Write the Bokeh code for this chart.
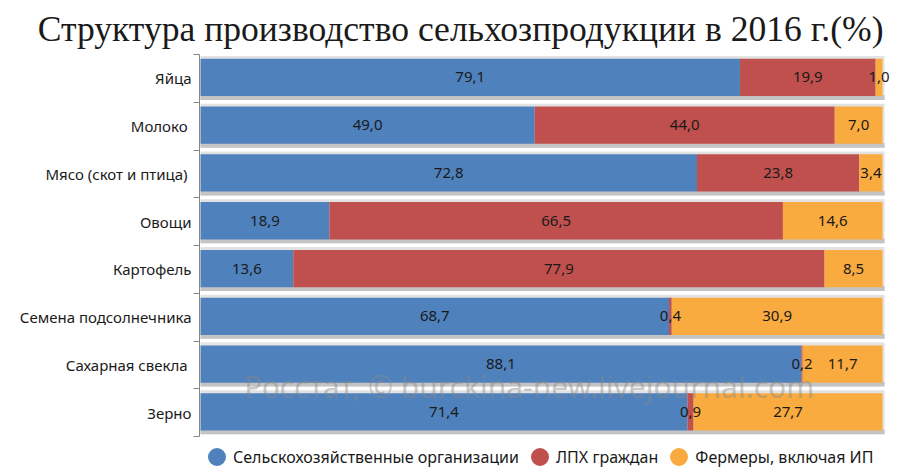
from bokeh.plotting import figure
from bokeh.models import (Range1d, FixedTicker, Label, Legend, LegendItem, Title,
                          ColumnDataSource, LabelSet)
from bokeh.core.properties import value
from bokeh.embed import file_html
from bokeh.resources import INLINE

categories = ["Яйца", "Молоко ", "Мясо (скот  и птица)", "Овощи", "Картофель",
              "Семена подсолнечника", "Сахарная свекла ", "Зерно"]
org = [79.1, 49.0, 72.8, 18.9, 13.6, 68.7, 88.1, 71.4]
lph = [19.9, 44.0, 23.8, 66.5, 77.9, 0.4, 0.2, 0.9]
farm = [1.0, 7.0, 3.4, 14.6, 8.5, 30.9, 11.7, 27.7]
series_names = ["Сельскохозяйственные организации", "ЛПХ граждан", "Фермеры, включая ИП"]
colors = ["#4F81BD", "#C0504D", "#F9AB3F"]
title_text = "Структура производство сельхозпродукции в 2016 г.(%)"
watermark = "Росстат, © burckina-new.livejournal.com"

FONT = "Noto Sans"
n = len(categories)
ys = [n - i - 0.5 for i in range(n)]
bar_c = [y + 0.02 for y in ys]

# frame: x 199..894, y 52..475 (legend area inside the frame, below the bars)
p = figure(width=900, height=475, x_range=Range1d(-0.147, 101.76),
           y_range=Range1d(-0.8125, n),
           output_backend="svg", toolbar_location=None, x_axis_location=None,
           min_border_left=199, min_border_right=6, min_border_top=52,
           min_border_bottom=0, outline_line_color=None, background_fill_color="white")
p.grid.visible = False

t = Title(text=title_text, align="right", text_font="Liberation Serif",
          text_font_size="35.6px", text_font_style="normal", text_color="#1a1a1a",
          standoff=12, offset=11)
p.add_layout(t, "above")

ax = p.yaxis[0]
ax.bounds = (0, n)
ax.ticker = FixedTicker(ticks=ys, minor_ticks=list(range(0, n + 1)))
ax.major_label_overrides = {y: c for y, c in zip(ys, categories)}
ax.major_tick_out = 0
ax.major_tick_in = 0
ax.minor_tick_out = 6
ax.minor_tick_in = 0
ax.axis_line_color = "#868686"
ax.minor_tick_line_color = "#868686"
ax.major_label_text_font = FONT
ax.major_label_text_font_size = "15px"
ax.major_label_text_color = "#1a1a1a"
ax.major_label_standoff = 2

# shadows
p.hbar(y=[c - 0.01 for c in bar_c], left=0, right=100.3, height=0.92,
       color="#e2e2e2", line_color=None)
p.hbar(y=[c - 0.42 for c in bar_c], left=0, right=100.3, height=0.1,
       color="#c4c4c4", line_color=None)

vals = [org, lph, farm]
left = [0.0] * n
lx, ly, lt = [], [], []
for s, c in zip(vals, colors):
    right = [l + v for l, v in zip(left, s)]
    p.hbar(y=bar_c, left=left, right=right, height=0.78, color=c, line_color=None)
    for i in range(n):
        lx.append((left[i] + right[i]) / 2)
        ly.append(bar_c[i])
        lt.append(f"{s[i]:.1f}".replace(".", ","))
    left = right

src = ColumnDataSource(dict(x=lx, y=ly, t=lt))
p.add_layout(LabelSet(x="x", y="y", text="t", source=src, text_align="center",
                      text_baseline="middle", text_font=value(FONT),
                      text_font_size="15px", text_color="#1a1a1a"))

p.add_layout(Label(x=48.2, y=1.06, text=watermark, text_align="center",
                   text_baseline="middle", text_font=FONT,
                   text_font_size="30px", text_color="#888888", text_alpha=0.45))

items = []
for name, c in zip(series_names, colors):
    r = p.scatter(x=[-50], y=[-50], marker="circle", size=10, color=c, line_width=8)
    items.append(LegendItem(label=name, renderers=[r]))
legend = Legend(items=items, orientation="horizontal", location=(5, 6),
                glyph_width=25, glyph_height=25, label_text_font=FONT,
                label_text_font_size="16px", label_text_color="#1a1a1a",
                border_line_color=None, spacing=8, padding=0, margin=0,
                label_standoff=4, background_fill_alpha=0)
p.add_layout(legend, "center")

open("out.html", "w").write(file_html(p, INLINE))
